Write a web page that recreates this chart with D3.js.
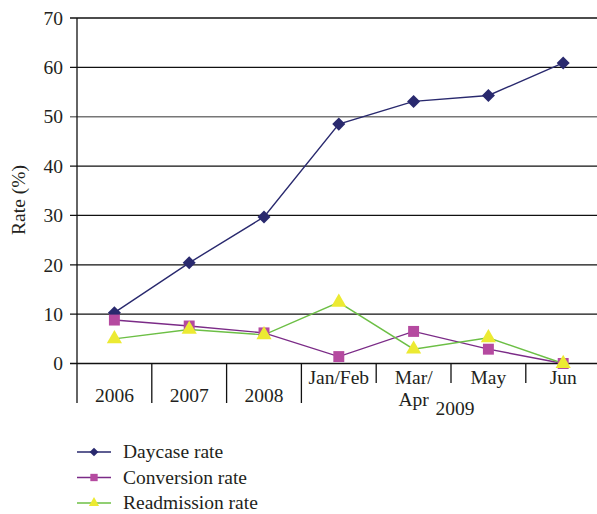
<!DOCTYPE html>
<html><head><meta charset="utf-8">
<script src="https://cdn.jsdelivr.net/npm/d3@7"></script>
<style>body{margin:0;background:#fff}svg{display:block}text{font-family:"Liberation Serif","DejaVu Serif",serif;fill:#231f20}</style>
</head><body><svg id="c" width="597" height="514"></svg>
<script>
const categories = ["2006","2007","2008","Jan/Feb","Mar/Apr","May","Jun"];
const categoryLabels = [["2006"],["2007"],["2008"],["Jan/Feb"],["Mar/","Apr"],["May"],["Jun"]];
const daycase = [10.3, 20.4, 29.7, 48.5, 53.1, 54.3, 60.9];
const conversion = [8.8, 7.6, 6.2, 1.4, 6.5, 2.9, 0.0];
const readmission = [5.0, 6.9, 5.8, 12.4, 2.9, 5.2, 0.0];
const yTicks = [0,10,20,30,40,50,60,70];
const seriesNames = ["Daycase rate","Conversion rate","Readmission rate"];

const FS = 19.5;
const svg = d3.select("#c");
const x = d3.scaleBand().domain(categories).range([77, 600.6]);
const y = d3.scaleLinear().domain([0,70]).range([363.5, 18]);

svg.append("g").selectAll("line").data(yTicks).join("line")
  .attr("x1",70).attr("x2",597).attr("y1",d=>y(d)).attr("y2",d=>y(d))
  .attr("stroke",d=>d===50?"#777":"#111").attr("stroke-width",d=>d===50?1.6:1.3);
const yAxis = d3.axisLeft(y).tickValues(yTicks).tickSize(0).tickPadding(7);
const ga = svg.append("g").attr("transform","translate(70,0)").call(yAxis);
ga.attr("font-size",null).attr("font-family",null);
ga.select(".domain").remove();
ga.selectAll("text").attr("font-size",FS).attr("fill","#231f20");

svg.append("line").attr("x1",77).attr("x2",77).attr("y1",18).attr("y2",403).attr("stroke","#111").attr("stroke-width",1.3);

const groupStart = new Set(["2007","2008","Jan/Feb"]);
svg.append("g").selectAll("line").data(categories.slice(1)).join("line")
  .attr("x1",d=>x(d)).attr("x2",d=>x(d)).attr("y1",363.5)
  .attr("y2",d=>groupStart.has(d)?403:383).attr("stroke","#111").attr("stroke-width",1.3);

const lbl = svg.append("g");
categories.forEach((c,i)=>{
  const lines = categoryLabels[i];
  const isYear = i<3;
  lines.forEach((t,j)=>{
    lbl.append("text").attr("x",x(c)+x.bandwidth()/2).attr("y",(isYear?402:384)+j*22)
      .attr("text-anchor","middle").attr("font-size",FS).text(t);
  });
});
lbl.append("text").attr("x",(x("Jan/Feb")+600.6)/2+4).attr("y",415).attr("text-anchor","middle").attr("font-size",FS).text("2009");

svg.append("text").attr("transform","translate(25,200) rotate(-90)").attr("text-anchor","middle").attr("font-size",FS).text("Rate (%)");

const cx = c => x(c)+x.bandwidth()/2;
const line = vals => d3.line().x((d,i)=>cx(categories[i])).y(d=>y(d))(vals);

const series = [
  {name:seriesNames[0], vals:daycase, line:"#29296e", fill:"#29296e", sym:d3.symbolSquare, size:85, rot:45},
  {name:seriesNames[1], vals:conversion, line:"#7b2b87", fill:"#b54aa0", sym:d3.symbolSquare, size:120, rot:0},
  {name:seriesNames[2], vals:readmission, line:"#6cbf45", fill:"#ecea32", sym:d3.symbolTriangle, size:100, rot:0},
];
series.forEach(s=>{
  svg.append("path").attr("d",line(s.vals)).attr("fill","none").attr("stroke",s.line).attr("stroke-width",1.4);
});
series.forEach(s=>{
  svg.append("g").selectAll("path").data(s.vals).join("path")
    .attr("transform",(d,i)=>`translate(${cx(categories[i])},${y(d)}) rotate(${s.rot})`)
    .attr("d",d3.symbol().type(s.sym).size(s.size)).attr("fill",s.fill);
});

const lg = svg.append("g");
series.forEach((s,i)=>{
  const yy = 452 + i*25.5;
  lg.append("line").attr("x1",77).attr("x2",111).attr("y1",yy).attr("y2",yy).attr("stroke",s.line).attr("stroke-width",1.6);
  lg.append("path").attr("transform",`translate(94,${yy}) rotate(${s.rot})`).attr("d",d3.symbol().type(s.sym).size(s.size*0.45)).attr("fill",s.fill);
  lg.append("text").attr("x",123).attr("y",yy+6).attr("font-size",FS).text(s.name);
});
</script></body></html>
